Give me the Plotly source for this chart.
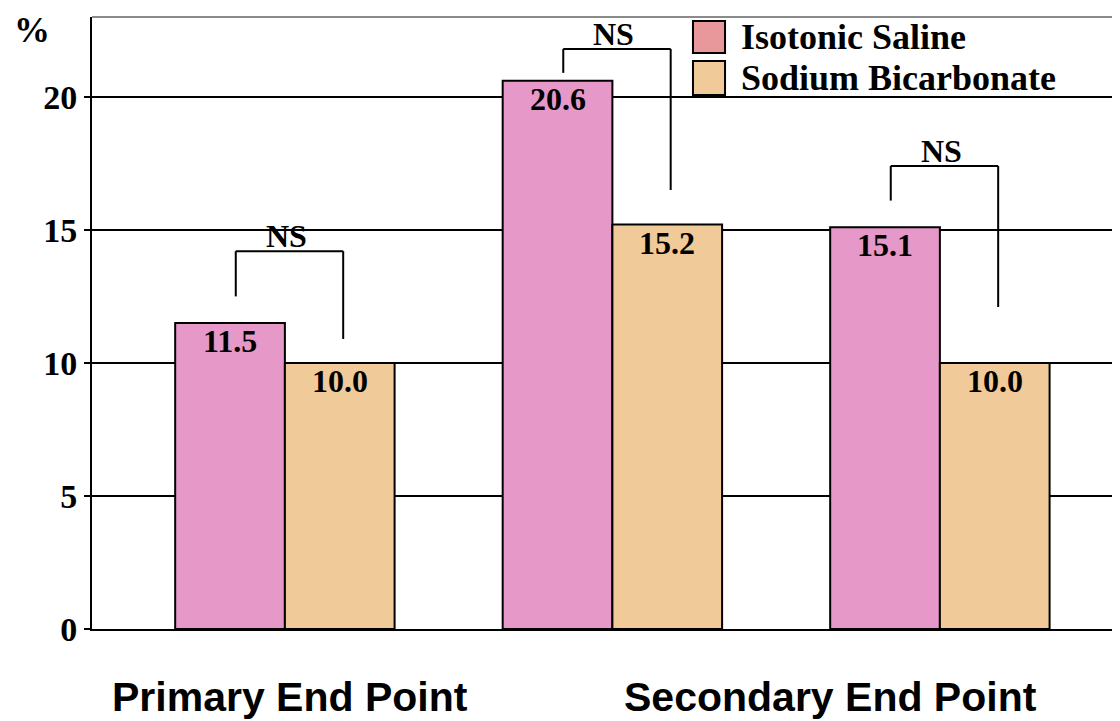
import plotly.graph_objects as go

# ---- data ----
categories = ["Primary", "Secondary A", "Secondary B"]
isotonic_saline = [11.5, 20.6, 15.1]
sodium_bicarbonate = [10.0, 15.2, 10.0]
series_names = ["Isotonic Saline", "Sodium Bicarbonate"]
y_ticks = [0, 5, 10, 15, 20]
group_labels = ["Primary End Point", "Secondary End Point"]
sig_labels = ["NS", "NS", "NS"]
bracket_top = [14.2, 21.8, 17.4]
bracket_left_end = [12.5, 20.9, 16.1]
bracket_right_end = [10.9, 16.5, 12.1]

# ---- styles ----
PINK = "#E698C8"
TAN = "#F0CA98"
LEG_PINK = "#E8989A"
SERIF = "Liberation Serif"
SANS = "Liberation Sans"
BARGAP = 0.33
bar_w = (1 - BARGAP) / 2

fig = go.Figure()
fig.add_trace(go.Bar(x=categories, y=isotonic_saline, name=series_names[0],
                     marker=dict(color=PINK, line=dict(color="black", width=2))))
fig.add_trace(go.Bar(x=categories, y=sodium_bicarbonate, name=series_names[1],
                     marker=dict(color=TAN, line=dict(color="black", width=2))))

annotations = []
shapes = []
for i, (a, b) in enumerate(zip(isotonic_saline, sodium_bicarbonate)):
    for off, v in ((-bar_w / 2, a), (bar_w / 2, b)):
        annotations.append(dict(x=i + off, y=v, xref="x", yref="y", text=f"{v:.1f}",
                                showarrow=False, yanchor="top", yshift=2,
                                font=dict(family=SERIF, size=32, color="black", weight="bold")))
    # significance bracket
    xl = i - 0.15
    xr = i + 0.178
    line = dict(color="black", width=2)
    shapes.append(dict(type="line", xref="x", yref="y", x0=xl, x1=xl,
                       y0=bracket_left_end[i], y1=bracket_top[i], line=line))
    shapes.append(dict(type="line", xref="x", yref="y", x0=xl, x1=xr,
                       y0=bracket_top[i], y1=bracket_top[i], line=line))
    shapes.append(dict(type="line", xref="x", yref="y", x0=xr, x1=xr,
                       y0=bracket_top[i], y1=bracket_right_end[i], line=line))
    annotations.append(dict(x=(xl + xr) / 2 - 0.01, y=bracket_top[i], xref="x", yref="y",
                            text=sig_labels[i], showarrow=False, yanchor="bottom", yshift=-5,
                            font=dict(family=SERIF, size=32, color="black", weight="bold")))

# top border line
shapes.append(dict(type="line", xref="paper", yref="paper", x0=0, x1=1, y0=1, y1=1,
                   line=dict(color="#8a8a8a", width=2)))

# manual legend
leg_colors = [LEG_PINK, TAN]
leg_boxes = [(0.9935, 0.9412), (0.928, 0.8725)]
leg_text_y = [0.967, 0.900]
for name, col, (y1, y0), ty in zip(series_names, leg_colors, leg_boxes, leg_text_y):
    shapes.append(dict(type="rect", xref="paper", yref="paper", x0=0.5846, x1=0.6158,
                       y0=y0, y1=y1, fillcolor=col, line=dict(color="black", width=2)))
    annotations.append(dict(x=0.6294, y=ty, xref="paper", yref="paper", text=name,
                            showarrow=False, xanchor="left", yanchor="middle",
                            font=dict(family=SERIF, size=36, color="black", weight="bold")))

# group labels below axis
for lbl, px in zip(group_labels, [0.1926, 0.718]):
    annotations.append(dict(x=px, y=-0.111, xref="paper", yref="paper", text=lbl,
                            showarrow=False, xanchor="center", yanchor="middle",
                            font=dict(family=SANS, size=41, color="black", weight="bold")))

# percent sign
annotations.append(dict(x=-0.058, y=1.0147, xref="paper", yref="paper", text="%",
                        showarrow=False, xanchor="center", yanchor="top",
                        font=dict(family=SERIF, size=36, color="black", weight="bold")))

fig.update_layout(
    width=1112, height=713,
    margin=dict(l=84, r=0, t=9, b=92),
    paper_bgcolor="white", plot_bgcolor="white",
    barmode="group", bargap=BARGAP, bargroupgap=0,
    showlegend=False,
    shapes=shapes, annotations=annotations,
    xaxis=dict(range=[-0.589, 2.55], showticklabels=False, ticks="",
               showgrid=False, showline=True, linecolor="black", linewidth=2,
               zeroline=False),
    yaxis=dict(range=[0, 23], tickvals=y_ticks, ticks="outside", ticklen=6,
               tickwidth=2, tickcolor="black", showgrid=True, gridcolor="black",
               gridwidth=1.5, showline=True, linecolor="black", linewidth=2,
               zeroline=False,
               tickfont=dict(family=SERIF, size=34, color="black", weight="bold")),
)

fig.write_html("out.html")
